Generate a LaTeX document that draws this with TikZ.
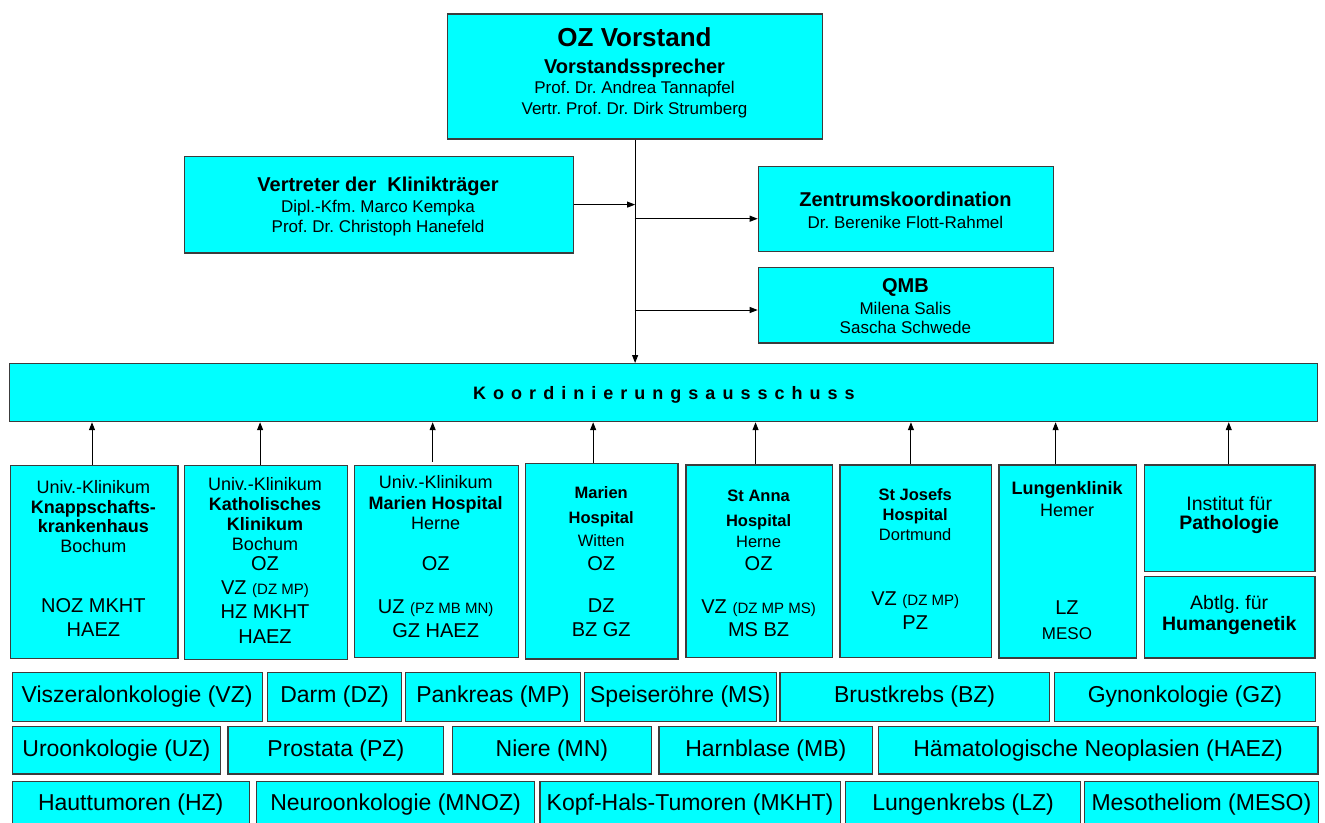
\documentclass[tikz,border=0pt]{standalone}
\usepackage{fontspec}
\setmainfont{Liberation Sans}
\usetikzlibrary{arrows.meta}
\definecolor{aquafill}{RGB}{0,255,255}
\definecolor{edgegray}{RGB}{60,60,60}
\newcommand\myfs[1]{\fontsize{#1}{#1}\selectfont}
\frenchspacing
\tikzset{
  bx/.style={draw=edgegray, fill=aquafill, line width=1.2pt, inner sep=0pt, anchor=north west},
  bb/.style={draw=edgegray, fill=aquafill, line width=1.2pt, inner sep=0pt, anchor=north west, font=\myfs{23}},
  tx/.style={anchor=base, inner sep=0pt, align=center},
  arr/.style={-{Triangle[length=8pt,width=6pt]}, line width=1pt, draw=black}
}
\newcommand\mybox[5]{\node[bx,minimum width={#4pt-#2pt},minimum height={#5pt-#3pt}] (#1) at (#2,#3) {};}
\newcommand\mybot[6]{\node[bb,minimum width={#4pt-#2pt},minimum height={#5pt-#3pt}] (#1) at (#2,#3) {#6};}
\newcommand\mytx[4]{\node[tx] (#1) at (#2,#3) {#4};}
\begin{document}
\begin{tikzpicture}[x=1pt,y=-1pt]
\useasboundingbox (0,0) rectangle (1325,822);
% top boxes
\mybox{oz}{447}{13.3}{822}{138.3}
\mybox{vk}{183.8}{155.7}{572.5}{252.3}
\mybox{zk}{757.7}{166}{1053}{250.7}
\mybox{qmb}{757.7}{266.7}{1053}{342.3}
\mybox{koord}{8.5}{363}{1317}{421}
% clinic boxes
\mybox{b1}{9.5}{464.5}{177.3}{658}
\mybox{b2}{183.5}{464.5}{346.5}{658.5}
\mybox{b3}{353.5}{464.5}{518}{657}
\mybox{b4}{525}{463}{677.3}{658.3}
\mybox{b5}{685.3}{464.3}{832}{657}
\mybox{b6}{839.3}{464.3}{991}{657}
\mybox{b7}{998.3}{464.3}{1135.7}{657.3}
\mybox{b8a}{1144}{464.3}{1314.3}{570.7}
\mybox{b8b}{1144}{576}{1314.3}{657.3}
% bottom rows
\mybot{r1a}{11.5}{671.7}{261.5}{720.7}{Viszeralonkologie (VZ)}
\mybot{r1b}{267}{671.7}{401}{720.7}{Darm (DZ)}
\mybot{r1c}{404.7}{671.7}{580}{720.7}{Pankreas (MP)}
\mybot{r1d}{583.8}{671.7}{775.5}{720.7}{Speiseröhre (MS)}
\mybot{r1e}{779.4}{671.7}{1048.6}{720.7}{Brustkrebs (BZ)}
\mybot{r1f}{1053.7}{671.7}{1315}{720.7}{Gynonkologie (GZ)}
\mybot{r2a}{11.5}{726}{220}{773.3}{Uroonkologie (UZ)}
\mybot{r2b}{227.4}{726}{443}{773.3}{Prostata (PZ)}
\mybot{r2c}{451.7}{726}{650.9}{773.3}{Niere (MN)}
\mybot{r2d}{658.4}{726}{872}{773.3}{Harnblase (MB)}
\mybot{r2e}{877.6}{726}{1317.4}{773.3}{Hämatologische Neoplasien (HAEZ)}
\mybot{r3a}{11.5}{780.7}{248.7}{827}{Hauttumoren (HZ)}
\mybot{r3b}{256}{780.7}{534}{827}{Neuroonkologie (MNOZ)}
\mybot{r3c}{539.3}{780.7}{839.6}{827}{Kopf-Hals-Tumoren (MKHT)}
\mybot{r3d}{845}{780.7}{1080}{827}{Lungenkrebs (LZ)}
\mybot{r3e}{1083.6}{780.7}{1318}{827}{Mesotheliom (MESO)}
% connectors
\draw[arr] (oz.south) -- (oz.south |- koord.north);
\draw[arr] (vk.east) -- (vk.east -| oz.south);
\coordinate (jz) at (634.6,218.7);
\coordinate (jq) at (634.6,310);
\draw[arr] (jz) -- (jz -| zk.west);
\draw[arr] (jq) -- (jq -| qmb.west);
\draw[arr] ([xshift=-2pt]b1.north) -- ([xshift=-2pt]b1.north |- koord.south);
\draw[arr] ([xshift=-5.5pt]b2.north) -- ([xshift=-5.5pt]b2.north |- koord.south);
\draw[arr] ([xshift=-3.7pt,yshift=3pt]b3.north) -- ([xshift=-3.7pt]b3.north |- koord.south);
\draw[arr] ([xshift=-8.6pt]b4.north) -- ([xshift=-8.6pt]b4.north |- koord.south);
\draw[arr] ([xshift=-3.7pt]b5.north) -- ([xshift=-3.7pt]b5.north |- koord.south);
\draw[arr] ([xshift=-4.8pt]b6.north) -- ([xshift=-4.8pt]b6.north |- koord.south);
\draw[arr] ([xshift=-12pt]b7.north) -- ([xshift=-12pt]b7.north |- koord.south);
\draw[arr] ([xshift=-1pt]b8a.north) -- ([xshift=-1pt]b8a.north |- koord.south);
% top texts
\mytx{t0a}{634.5}{46}{\myfs{26}\bfseries OZ Vorstand}
\mytx{t0b}{634.5}{73}{\myfs{20}\bfseries Vorstandssprecher}
\mytx{t0c}{634.5}{93}{\myfs{17}Prof. Dr. Andrea Tannapfel}
\mytx{t0d}{634.5}{114}{\myfs{17}Vertr. Prof. Dr. Dirk Strumberg}
\mytx{tva}{378}{191}{\myfs{20}\bfseries Vertreter der\ \ Klinikträger}
\mytx{tvb}{378}{212.7}{\myfs{17}Dipl.-Kfm. Marco Kempka}
\mytx{tvc}{378}{232.7}{\myfs{17}Prof. Dr. Christoph Hanefeld}
\mytx{tza}{905.4}{206.7}{\myfs{20}\bfseries Zentrumskoordination}
\mytx{tzb}{905.4}{228}{\myfs{17}Dr. Berenike Flott-Rahmel}
\mytx{tqa}{905.4}{292.3}{\myfs{20}\bfseries QMB}
\mytx{tqb}{905.4}{314}{\myfs{17}Milena Salis}
\mytx{tqc}{905.4}{333.3}{\myfs{17}Sascha Schwede}
\node[tx,anchor=base west] (tk) at (473,399) {\myfs{18}\bfseries\addfontfeature{LetterSpace=39}Koordinierungsausschuss};
% box 1
\mytx{t1a}{93.4}{493.3}{\myfs{18}Univ.-Klinikum}
\mytx{t1b}{93.4}{513.3}{\myfs{18}\bfseries Knappschafts-}
\mytx{t1c}{93.4}{532.7}{\myfs{18}\bfseries krankenhaus}
\mytx{t1d}{93.4}{552.7}{\myfs{18}Bochum}
\mytx{t1e}{93.4}{612.3}{\myfs{20}NOZ MKHT}
\mytx{t1f}{93.4}{636.7}{\myfs{20}HAEZ}
% box 2
\mytx{t2a}{265}{490}{\myfs{18}Univ.-Klinikum}
\mytx{t2b}{265}{510}{\myfs{18}\bfseries Katholisches}
\mytx{t2c}{265}{530}{\myfs{18}\bfseries Klinikum}
\mytx{t2d}{265}{550}{\myfs{18}Bochum}
\mytx{t2e}{265}{570}{\myfs{20}OZ}
\mytx{t2f}{265}{594}{\myfs{20}VZ {\myfs{15}(DZ MP)}}
\mytx{t2g}{265}{618}{\myfs{20}HZ MKHT}
\mytx{t2h}{265}{643}{\myfs{20}HAEZ}
% box 3
\mytx{t3a}{435.7}{488}{\myfs{18}Univ.-Klinikum}
\mytx{t3b}{435.7}{509}{\myfs{18}\bfseries Marien Hospital}
\mytx{t3c}{435.7}{529}{\myfs{18}Herne}
\mytx{t3d}{435.7}{570}{\myfs{20}OZ}
\mytx{t3e}{435.7}{613}{\myfs{20}UZ {\myfs{15}(PZ MB MN)}}
\mytx{t3f}{435.7}{637}{\myfs{20}GZ HAEZ}
% box 4
\mytx{t4a}{601.2}{498.3}{\myfs{16.5}\bfseries Marien}
\mytx{t4b}{601.2}{523.3}{\myfs{16.5}\bfseries Hospital}
\mytx{t4c}{601.2}{546.7}{\myfs{16.5}Witten}
\mytx{t4d}{601.2}{570}{\myfs{20}OZ}
\mytx{t4e}{601.2}{612.3}{\myfs{20}DZ}
\mytx{t4f}{601.2}{636.7}{\myfs{20}BZ GZ}
% box 5
\mytx{t5a}{758.6}{501.7}{\myfs{16.5}\bfseries St Anna}
\mytx{t5b}{758.6}{526}{\myfs{16.5}\bfseries Hospital}
\mytx{t5c}{758.6}{547.7}{\myfs{16.5}Herne}
\mytx{t5d}{758.6}{570}{\myfs{20}OZ}
\mytx{t5e}{758.6}{613.3}{\myfs{20}VZ {\myfs{15}(DZ MP MS)}}
\mytx{t5f}{758.6}{636.7}{\myfs{20}MS BZ}
% box 6
\mytx{t6a}{915.2}{500}{\myfs{16.5}\bfseries St Josefs}
\mytx{t6b}{915.2}{520}{\myfs{16.5}\bfseries Hospital}
\mytx{t6c}{915.2}{540}{\myfs{16.5}Dortmund}
\mytx{t6d}{915.2}{605}{\myfs{20}VZ {\myfs{15}(DZ MP)}}
\mytx{t6e}{915.2}{629}{\myfs{20}PZ}
% box 7
\mytx{t7a}{1067}{494.3}{\myfs{18}\bfseries Lungenklinik}
\mytx{t7b}{1067}{516}{\myfs{18}Hemer}
\mytx{t7c}{1067}{614.3}{\myfs{20}LZ}
\mytx{t7d}{1067}{639}{\myfs{17}MESO}
% box 8
\mytx{t8a}{1229.2}{510}{\myfs{19.5}Institut für}
\mytx{t8b}{1229.2}{529}{\myfs{19.5}\bfseries Pathologie}
\mytx{t8c}{1229.2}{609}{\myfs{19.5}Abtlg. für}
\mytx{t8d}{1229.2}{630}{\myfs{19.5}\bfseries Humangenetik}
\end{tikzpicture}
\end{document}
